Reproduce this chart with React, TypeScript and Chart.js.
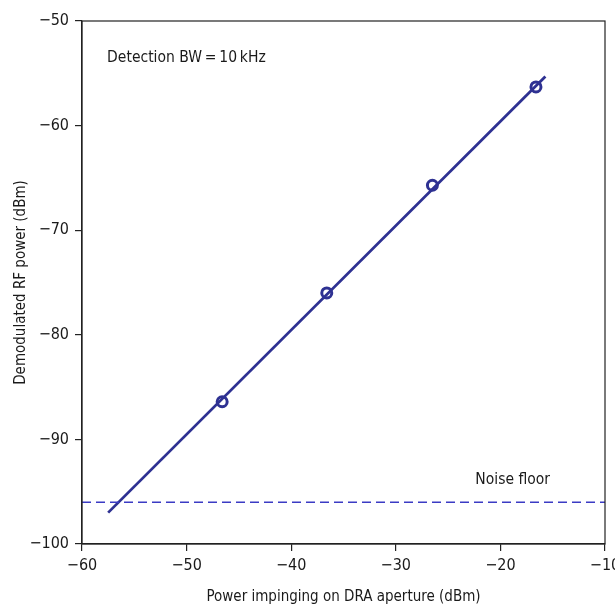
import React, { useEffect, useRef } from "react";
import { Chart, registerables } from "chart.js";

Chart.register(...registerables);

const measuredX = [-46.6, -36.6, -26.5, -16.6];
const measuredY = [-86.4, -76.0, -65.7, -56.3];
const fitX = [-57.5, -15.7];
const fitY = [-97.0, -55.3];
const noiseX = [-60, -10];
const noiseY = [-96.0, -96.0];
const xTicks = [-60, -50, -40, -30, -20, -10];
const yTicks = [-100, -90, -80, -70, -60, -50];
const noteText = "Detection BW\u2009=\u200910\u2009kHz";
const noteAt = [-57.6, -53.5];
const noiseText = "Noise floor";
const noiseAt = [-22.4, -93.9];

const FONT = "'DejaVu Sans Condensed', 'Liberation Sans Narrow', sans-serif";
const DARK = "#2e3192";
const DASH = "#3b3bc4";

const fmt = (v: number) => String(v).replace("-", "\u2212");

export default function App() {
  const ref = useRef<HTMLCanvasElement | null>(null);
  useEffect(() => {
    if (!ref.current) return;
    const boxPlugin = {
      id: "box",
      afterDatasetsDraw(chart: any) {
        const { ctx, chartArea: a, scales } = chart;
        ctx.save();
        ctx.strokeStyle = "#222";
        ctx.lineWidth = 1.2;
        ctx.strokeRect(a.left, a.top, a.right - a.left, a.bottom - a.top);
        ctx.fillStyle = "#1a1a1a";
        ctx.font = "15.5px " + FONT;
        ctx.textBaseline = "middle";
        ctx.textAlign = "left";
        ctx.fillText(noteText, scales.x.getPixelForValue(noteAt[0]), scales.y.getPixelForValue(noteAt[1]));
        ctx.fillText(noiseText, scales.x.getPixelForValue(noiseAt[0]), scales.y.getPixelForValue(noiseAt[1]));
        ctx.restore();
      },
    };
    const chart = new Chart(ref.current, {
      type: "scatter",
      data: {
        datasets: [
          {
            data: noiseX.map((x, i) => ({ x, y: noiseY[i] })),
            showLine: true,
            borderColor: DASH,
            borderWidth: 1.5,
            borderDash: [9, 5],
            pointRadius: 0,
          },
          {
            data: fitX.map((x, i) => ({ x, y: fitY[i] })),
            showLine: true,
            borderColor: DARK,
            borderWidth: 2.8,
            pointRadius: 0,
          },
          {
            data: measuredX.map((x, i) => ({ x, y: measuredY[i] })),
            showLine: false,
            borderColor: DARK,
            backgroundColor: "rgba(0,0,0,0)",
            borderWidth: 3,
            pointRadius: 5,
            pointStyle: "circle",
          },
        ],
      },
      options: {
        animation: false,
        responsive: false,
        maintainAspectRatio: false,
        layout: { padding: { top: 21, right: 10, left: 0, bottom: 0 } },
        plugins: { legend: { display: false }, tooltip: { enabled: false } },
        scales: {
          x: {
            type: "linear",
            min: -60,
            max: -10,
            afterFit: (s: any) => { s.height = 62; s.paddingLeft = 0; s.paddingRight = 0; },
            afterBuildTicks: (s: any) => { s.ticks = xTicks.map((v) => ({ value: v })); },
            grid: { drawOnChartArea: false, drawTicks: true, tickLength: 7, color: "#222", lineWidth: 1.2 },
            border: { display: true, color: "#222", width: 1.2 },
            ticks: { color: "#1a1a1a", padding: 5, font: { family: FONT, size: 16 }, callback: (v: any) => fmt(v), maxRotation: 0 },
            title: { display: true, text: "Power impinging on DRA aperture (dBm)", color: "#1a1a1a", font: { family: FONT, size: 15 }, padding: { top: 0, bottom: 0 } },
          },
          y: {
            type: "linear",
            min: -100,
            max: -50,
            afterFit: (s: any) => { s.width = 82; s.paddingTop = 0; s.paddingBottom = 0; },
            afterBuildTicks: (s: any) => { s.ticks = yTicks.map((v) => ({ value: v })); },
            grid: { drawOnChartArea: false, drawTicks: true, tickLength: 7, color: "#222", lineWidth: 1.2 },
            border: { display: true, color: "#222", width: 1.2 },
            ticks: { color: "#1a1a1a", padding: 6, font: { family: FONT, size: 16 }, callback: (v: any) => fmt(v) },
            title: { display: true, text: "Demodulated RF power (dBm)", color: "#1a1a1a", font: { family: FONT, size: 15 }, padding: { top: 12, bottom: 0 } },
          },
        },
      },
      plugins: [boxPlugin],
    } as any);
    return () => chart.destroy();
  }, []);
  return (
    <div style={{ position: "fixed", left: 0, top: 0, width: 615, height: 606, background: "#fff" }}>
      <canvas ref={ref} width={615} height={606} style={{ width: 615, height: 606, display: "block" }} />
    </div>
  );
}
